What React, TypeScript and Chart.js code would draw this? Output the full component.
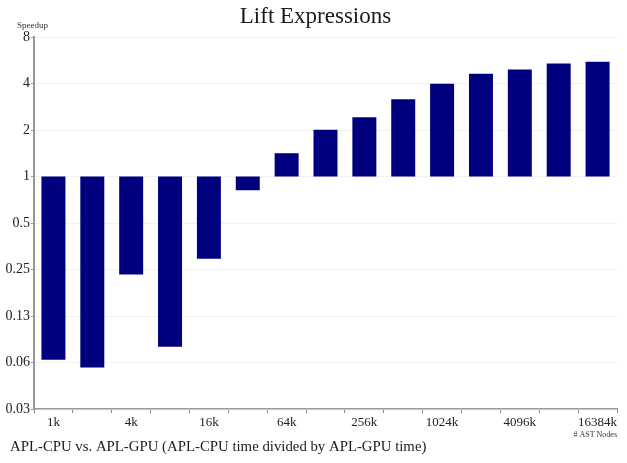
import React, { useEffect, useRef } from "react";
import { Chart, registerables } from "chart.js";

Chart.register(...registerables);

const TITLE = "Lift Expressions";
const SUBTITLE = "APL-CPU vs. APL-GPU (APL-CPU time divided by APL-GPU time)";
const Y_LABEL = "Speedup";
const X_LABEL = "# AST Nodes";

const categories = [
  "1k", "2k", "4k", "8k", "16k", "32k", "64k", "128k",
  "256k", "512k", "1024k", "2048k", "4096k", "8192k", "16384k",
];
const speedup = [
  0.065, 0.058, 0.232, 0.079, 0.293, 0.815, 1.415, 2.01,
  2.42, 3.16, 3.99, 4.63, 4.92, 5.38, 5.54,
];
const baseline = 1;
const yTickValues = [0.03125, 0.0625, 0.125, 0.25, 0.5, 1, 2, 4, 8];
const yTickLabels = ["0.03", "0.06", "0.13", "0.25", "0.5", "1", "2", "4", "8"];

const FONT = '"Liberation Serif", "DejaVu Serif", serif';

const textPlugin = {
  id: "extraTexts",
  afterDraw(chart: any) {
    const { ctx, chartArea, width } = chart;
    ctx.save();
    ctx.fillStyle = "#1a1a1a";
    ctx.textBaseline = "middle";
    ctx.textAlign = "center";
    ctx.font = `23px ${FONT}`;
    ctx.fillText(TITLE, width / 2 + 2, 17);
    ctx.textAlign = "left";
    ctx.font = `9px ${FONT}`;
    ctx.fillStyle = "#333";
    ctx.fillText(Y_LABEL, 17, chartArea.top - 11);
    ctx.textAlign = "right";
    ctx.font = `8px ${FONT}`;
    ctx.fillText(X_LABEL, chartArea.right, chartArea.bottom + 26);
    ctx.textAlign = "left";
    ctx.font = `14.8px ${FONT}`;
    ctx.fillStyle = "#1a1a1a";
    ctx.fillText(SUBTITLE, 10, chartArea.bottom + 38);
    ctx.restore();
  },
};

export default function App() {
  const ref = useRef<HTMLCanvasElement | null>(null);
  useEffect(() => {
    if (!ref.current) return;
    const chart = new Chart(ref.current, {
      type: "bar",
      data: {
        labels: categories,
        datasets: [
          {
            label: "Speedup",
            data: speedup.map((v) => [baseline, v]) as any,
            backgroundColor: "#00007f",
            borderWidth: 0,
            categoryPercentage: 1,
            barPercentage: 0.617,
          },
        ],
      },
      options: {
        animation: false,
        responsive: true,
        maintainAspectRatio: false,
        layout: { padding: { top: 37, right: 10, left: 0, bottom: 0 } },
        plugins: {
          legend: { display: false },
          title: { display: false },
          tooltip: { enabled: false },
        },
        scales: {
          x: {
            grid: {
              offset: true,
              drawOnChartArea: false,
              drawTicks: true,
              tickLength: 4,
              color: "#888",
            },
            border: { color: "#999", width: 1.5 },
            ticks: {
              autoSkip: false,
              maxRotation: 0,
              color: "#222",
              font: { family: FONT, size: 13 },
              padding: 2,
              callback: (_v: any, i: number) => (i % 2 === 0 ? categories[i] : ""),
            },
            afterFit: (s: any) => {
              s.height = 54;
            },
          },
          y: {
            type: "logarithmic",
            min: yTickValues[0],
            max: yTickValues[yTickValues.length - 1],
            grid: { color: "#f1f1f1", tickLength: 3, tickColor: "#999" },
            border: { color: "#999", width: 2 },
            afterBuildTicks: (s: any) => {
              s.ticks = yTickValues.map((v) => ({ value: v }));
            },
            ticks: {
              color: "#222",
              font: { family: FONT, size: 14 },
              padding: 1,
              callback: (v: any) => {
                const i = yTickValues.indexOf(Number(v));
                return i >= 0 ? yTickLabels[i] : "";
              },
            },
            afterFit: (s: any) => {
              s.width = 34;
            },
          },
        },
      },
      plugins: [textPlugin],
    });
    return () => chart.destroy();
  }, []);
  return (
    <div style={{ position: "absolute", left: 0, top: 0, width: 627, height: 463, background: "#fff" }}>
      <canvas ref={ref} />
    </div>
  );
}
